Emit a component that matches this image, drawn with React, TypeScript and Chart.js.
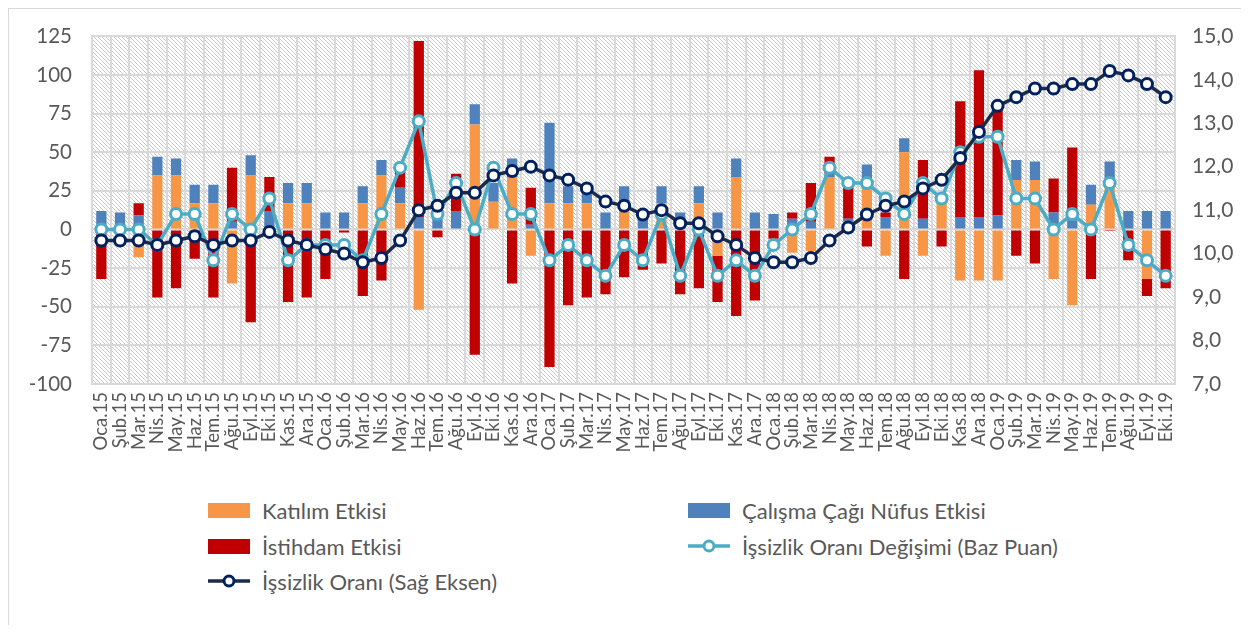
import React, { useEffect, useRef } from 'react';
import { Chart, registerables } from 'chart.js';

Chart.register(...registerables);

const labels = [
  'Oca.15', 'Şub.15', 'Mar.15', 'Nis.15', 'May.15', 'Haz.15', 'Tem.15', 'Ağu.15', 'Eyl.15', 'Eki.15', 'Kas.15', 'Ara.15',
  'Oca.16', 'Şub.16', 'Mar.16', 'Nis.16', 'May.16', 'Haz.16', 'Tem.16', 'Ağu.16', 'Eyl.16', 'Eki.16', 'Kas.16', 'Ara.16',
  'Oca.17', 'Şub.17', 'Mar.17', 'Nis.17', 'May.17', 'Haz.17', 'Tem.17', 'Ağu.17', 'Eyl.17', 'Eki.17', 'Kas.17', 'Ara.17',
  'Oca.18', 'Şub.18', 'Mar.18', 'Nis.18', 'May.18', 'Haz.18', 'Tem.18', 'Ağu.18', 'Eyl.18', 'Eki.18', 'Kas.18', 'Ara.18',
  'Oca.19', 'Şub.19', 'Mar.19', 'Nis.19', 'May.19', 'Haz.19', 'Tem.19', 'Ağu.19', 'Eyl.19', 'Eki.19',
];

// Katılım Etkisi (baz puan)
const katilim = [
  0, 0, -18, 35, 35, 17, 17, -35, 35, 0, 17, 17,
  0, 0, 17, 35, 17, -52, 0, 0, 68, 18, 34, -17,
  17, 17, 17, 0, 17, 0, 17, 0, 17, -17, 34, 0,
  0, -15, -14, 34, 5, 31, -17, 50, -17, 19, -33, -33,
  -33, 32, 32, -32, -49, 16, 32, 0, -32, 0,
];

// Çalışma Çağı Nüfus Etkisi
const calisma = [
  12, 11, 9, 12, 11, 12, 12, 5, 13, 12, 13, 13,
  11, 11, 11, 10, 10, 8, 8, 12, 13, 12, 12, 3,
  52, 11, 11, 11, 11, 11, 11, 11, 11, 11, 12, 11,
  10, 7, 5, 2, 2, 11, 8, 9, 7, 0, 8, 8,
  9, 13, 12, 11, 6, 13, 12, 12, 12, 12,
];

// İstihdam Etkisi
const istihdam = [
  -32, -2, 8, -44, -38, -19, -44, 35, -60, 22, -47, -44,
  -32, -2, -43, -33, 11, 114, -5, 24, -81, 0, -35, 24,
  -89, -49, -44, -42, -31, -26, -22, -42, -38, -30, -56, -46,
  -6, 4, 25, 11, 23, -11, 3, -32, 38, -11, 75, 95,
  68, -17, -22, 22, 47, -32, -1, -20, -11, -38,
];

// İşsizlik Oranı Değişimi (Baz Puan)
const degisim = [
  0, 0, 0, -10, 10, 10, -20, 10, 0, 20, -20, -10,
  -10, -10, -20, 10, 40, 70, 10, 30, 0, 40, 10, 10,
  -20, -10, -20, -30, -10, -20, 10, -30, 0, -30, -20, -30,
  -10, 0, 10, 40, 30, 30, 20, 10, 30, 20, 50, 60,
  60, 20, 20, 0, 10, 0, 30, -10, -20, -30,
];

// İşsizlik Oranı (Sağ Eksen, %)
const oran = [
  10.3, 10.3, 10.3, 10.2, 10.3, 10.4, 10.2, 10.3, 10.3, 10.5, 10.3, 10.2,
  10.1, 10.0, 9.8, 9.9, 10.3, 11.0, 11.1, 11.4, 11.4, 11.8, 11.9, 12.0,
  11.8, 11.7, 11.5, 11.2, 11.1, 10.9, 11.0, 10.7, 10.7, 10.4, 10.2, 9.9,
  9.8, 9.8, 9.9, 10.3, 10.6, 10.9, 11.1, 11.2, 11.5, 11.7, 12.2, 12.8,
  13.4, 13.6, 13.8, 13.8, 13.9, 13.9, 14.2, 14.1, 13.9, 13.6,
];

const leftTicks = { min: -100, max: 125, step: 25 };
const rightTicks = { min: 7, max: 15, step: 1 };

const ORANGE = '#F79646';
const BLUE = '#4F81BD';
const RED = '#C00000';
const LIGHT = '#4BACC6';
const NAVY = '#002060';
const NAVY_LINE = '#1C2B4A';
const GRID = '#d9d9d9';
const TEXT = '#595959';
const FONT = 'Lato, "Open Sans", sans-serif';

const hatchPlugin = {
  id: 'hatch',
  beforeDraw(chart: any) {
    const { ctx, chartArea: a } = chart;
    if (!a) return;
    const pc = document.createElement('canvas');
    pc.width = 4;
    pc.height = 4;
    const p = pc.getContext('2d')!;
    p.fillStyle = '#ffffff';
    p.fillRect(0, 0, 4, 4);
    p.fillStyle = '#cbcbcb';
    for (let i = 0; i < 4; i++) p.fillRect(i, i, 1, 1);
    const pat = ctx.createPattern(pc, 'repeat');
    ctx.save();
    ctx.fillStyle = pat;
    ctx.fillRect(a.left, a.top, a.right - a.left, a.bottom - a.top);
    ctx.restore();
  },
};

function BarSwatch({ color }: { color: string }) {
  return <div style={{ width: 42, height: 15, background: color, marginRight: 12 }} />;
}

function LineSwatch({ color, marker }: { color: string; marker: string }) {
  return (
    <svg width={42} height={18} style={{ marginRight: 12, display: 'block' }}>
      <line x1={0} y1={9} x2={42} y2={9} stroke={color} strokeWidth={3.5} />
      <circle cx={21} cy={9} r={5} fill="#fff" stroke={marker} strokeWidth={3} />
    </svg>
  );
}

function LegendItem({ left, top, swatch, text }: { left: number; top: number; swatch: React.ReactNode; text: string }) {
  return (
    <div
      style={{
        position: 'absolute',
        left,
        top,
        height: 30,
        display: 'flex',
        alignItems: 'center',
        fontFamily: FONT,
        fontSize: 22,
        color: TEXT,
        whiteSpace: 'nowrap',
      }}
    >
      {swatch}
      <span>{text}</span>
    </div>
  );
}

export default function App() {
  const ref = useRef<HTMLCanvasElement>(null);

  useEffect(() => {
    const chart = new Chart(ref.current!, {
      type: 'bar',
      data: {
        labels,
        datasets: [
          { type: 'bar', label: 'Katılım Etkisi', data: katilim, backgroundColor: ORANGE, order: 2, yAxisID: 'y', stack: 'bars', categoryPercentage: 1, barPercentage: 0.55 } as any,
          { type: 'bar', label: 'Çalışma Çağı Nüfus Etkisi', data: calisma, backgroundColor: BLUE, order: 2, yAxisID: 'y', stack: 'bars', categoryPercentage: 1, barPercentage: 0.55 } as any,
          { type: 'bar', label: 'İstihdam Etkisi', data: istihdam, backgroundColor: RED, order: 2, yAxisID: 'y', stack: 'bars', categoryPercentage: 1, barPercentage: 0.55 } as any,
          {
            type: 'line', label: 'İşsizlik Oranı Değişimi (Baz Puan)', data: degisim, yAxisID: 'y', stack: 'lb', order: 1,
            borderColor: LIGHT, borderWidth: 3.5, pointRadius: 5.5, pointBorderWidth: 3,
            pointBackgroundColor: '#ffffff', pointBorderColor: LIGHT, tension: 0,
          } as any,
          {
            type: 'line', label: 'İşsizlik Oranı (Sağ Eksen)', data: oran, yAxisID: 'y1', order: 0,
            borderColor: NAVY_LINE, borderWidth: 3.5, pointRadius: 5.5, pointBorderWidth: 3,
            pointBackgroundColor: '#ffffff', pointBorderColor: NAVY, tension: 0,
          } as any,
        ],
      },
      options: {
        responsive: false,
        animation: false,
        layout: { padding: { top: 22, left: 0, right: 0, bottom: 0 } },
        plugins: { legend: { display: false }, tooltip: { enabled: false } },
        scales: {
          x: {
            stacked: true,
            offset: true,
            grid: { color: GRID, lineWidth: 2, offset: true, drawTicks: false },
            border: { color: GRID, width: 2 },
            ticks: {
              autoSkip: false, maxRotation: 90, minRotation: 90, padding: 8,
              color: TEXT, font: { family: FONT, size: 18.5 },
            },
            afterFit: (s: any) => { s.height = 95; },
          },
          y: {
            stacked: true,
            position: 'left',
            min: leftTicks.min,
            max: leftTicks.max,
            grid: { color: GRID, lineWidth: 2, drawTicks: false },
            border: { color: GRID, width: 2 },
            ticks: { stepSize: leftTicks.step, padding: 20, color: TEXT, font: { family: FONT, size: 20.5 } },
            afterFit: (s: any) => { s.width = 83; },
          },
          y1: {
            position: 'right',
            min: rightTicks.min,
            max: rightTicks.max,
            grid: { drawOnChartArea: false, drawTicks: false },
            border: { color: GRID, width: 2 },
            ticks: {
              stepSize: rightTicks.step, padding: 17, color: TEXT, font: { family: FONT, size: 21 },
              callback: (v: any) => Number(v).toFixed(1).replace('.', ','),
            },
            afterFit: (s: any) => { s.width = 66; },
          },
        },
      } as any,
      plugins: [hatchPlugin],
    });
    return () => chart.destroy();
  }, []);

  return (
    <div
      style={{
        position: 'relative',
        width: 1232,
        height: 616,
        borderLeft: `1px solid ${GRID}`,
        borderTop: `1px solid ${GRID}`,
        overflow: 'hidden',
      }}
    >
      <canvas ref={ref} width={1232} height={475} style={{ position: 'absolute', left: 0, top: -5 }} />
      <LegendItem left={199} top={486} swatch={<BarSwatch color={ORANGE} />} text="Katılım Etkisi" />
      <LegendItem left={679} top={486} swatch={<BarSwatch color={BLUE} />} text="Çalışma Çağı Nüfus Etkisi" />
      <LegendItem left={199} top={522} swatch={<BarSwatch color={RED} />} text="İstihdam Etkisi" />
      <LegendItem left={679} top={522} swatch={<LineSwatch color={LIGHT} marker={LIGHT} />} text="İşsizlik Oranı Değişimi (Baz Puan)" />
      <LegendItem left={199} top={557} swatch={<LineSwatch color={NAVY_LINE} marker={NAVY} />} text="İşsizlik Oranı (Sağ Eksen)" />
    </div>
  );
}
